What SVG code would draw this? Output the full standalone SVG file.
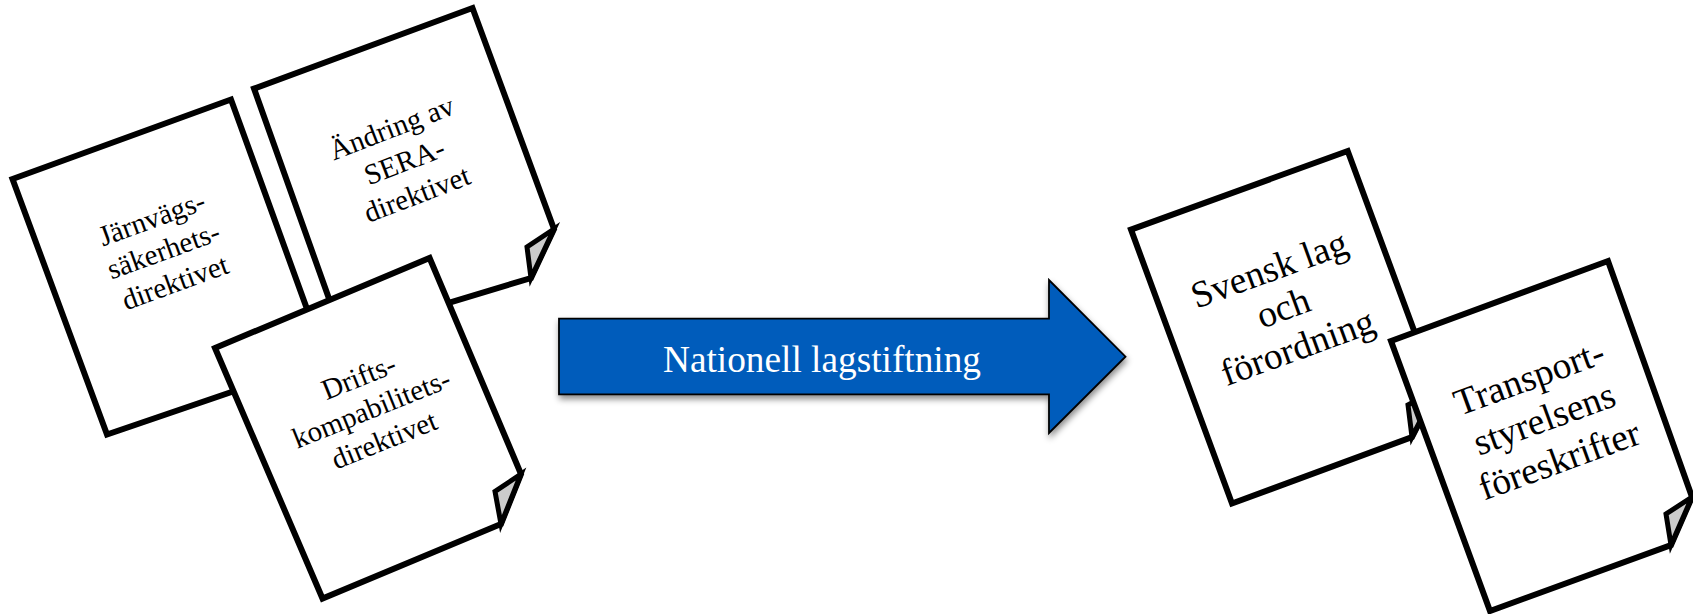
<svg xmlns="http://www.w3.org/2000/svg" width="1693" height="614" viewBox="0 0 1693 614">
<style>
.page{fill:#fff;stroke:#000;stroke-width:6;stroke-linejoin:miter}
.fold{fill:#ccc;stroke:#000;stroke-width:5;stroke-linejoin:miter}
.t{font-family:"Liberation Serif","Times New Roman",serif;fill:#000;text-anchor:middle}
.s{font-size:29px}
.b{font-size:37.5px}
.w{font-family:"Liberation Serif","Times New Roman",serif;fill:#fff;text-anchor:middle;font-size:37.3px}
</style>
<defs>
<filter id="sh" x="-5%" y="-10%" width="110%" height="125%"><feDropShadow dx="1" dy="4" stdDeviation="3" flood-color="#000" flood-opacity="0.45"/></filter>
</defs>
<rect width="1693" height="614" fill="#fff"/>
<g id="jarnvag">
<polygon class="page" points="12.5,179 231,99.5 307,309 325,360 107,434.5"/>
<g class="t s" transform="translate(164,252) rotate(-20)"><text y="-26">Järnvägs-</text><text y="8">säkerhets-</text><text y="42">direktivet</text></g>
</g>
<g id="andring">
<polygon class="page" points="254,88.6 472.5,8 554,229 531,278 342,335"/>
<polygon class="fold" points="554,229 527,247 531,278"/>
<g class="t s" transform="translate(405,163) rotate(-21)"><text y="-28">Ändring av</text><text y="8">SERA-</text><text y="43">direktivet</text></g>
</g>
<g id="drifts">
<polygon class="page" points="215,348 429.6,258 521,474 501,524 322.5,598.5"/>
<polygon class="fold" points="521,474 495,491.5 501,524"/>
<g class="t s" transform="translate(372,410) rotate(-22)"><text y="-26">Drifts-</text><text y="8">kompabilitets-</text><text y="42">direktivet</text></g>
</g>
<g id="lagstiftning">
<polygon points="559,318.7 1049,318.7 1049,280 1125.5,356.7 1049,433 1049,394.3 559,394.3" fill="#035cbb" stroke="#000" stroke-width="1.8" filter="url(#sh)"/>
<text class="w" x="822" y="372">Nationell lagstiftning</text>
</g>
<g id="svensk">
<polygon class="page" points="1131,229.6 1347.7,151 1436,390 1412,437 1232,503.5"/>
<polygon class="fold" points="1436,390 1408,405 1412,437"/>
<g class="t b" transform="translate(1284,310) rotate(-20)"><text y="-31">Svensk lag</text><text y="10">och</text><text y="52">förordning</text></g>
</g>
<g id="transport">
<polygon class="page" points="1391,341 1608,261 1692,497 1671,545 1490,611"/>
<polygon class="fold" points="1692,497 1666,514 1671,545"/>
<g class="t b" transform="translate(1545,421) rotate(-20)"><text y="-34">Transport-</text><text y="10">styrelsens</text><text y="54">föreskrifter</text></g>
</g>
</svg>
